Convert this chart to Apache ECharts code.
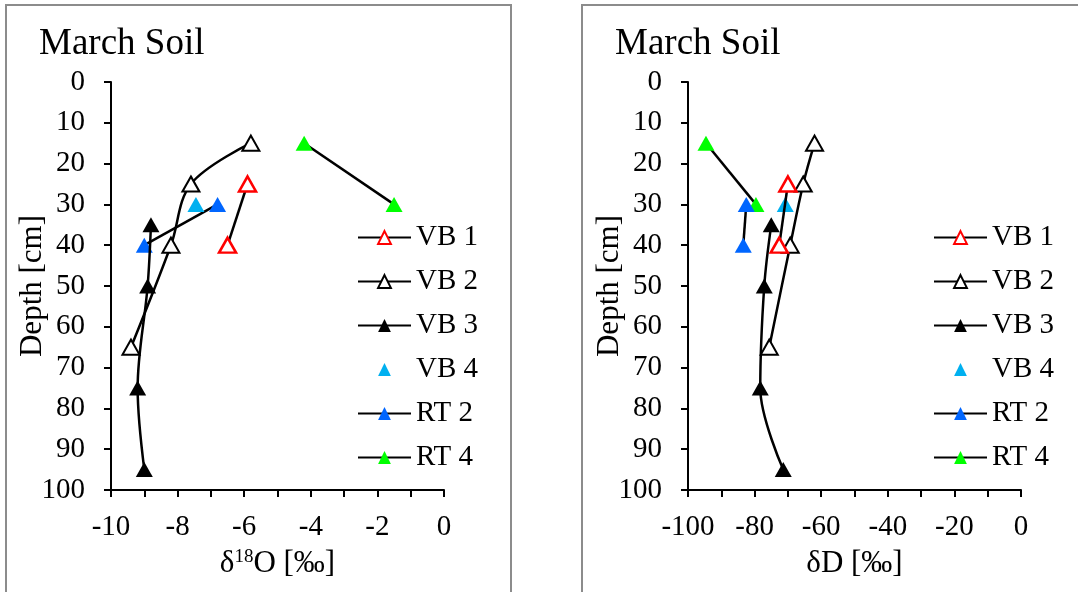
<!DOCTYPE html>
<html>
<head>
<meta charset="utf-8">
<script src="https://cdn.jsdelivr.net/npm/echarts@6/dist/echarts.min.js"></script>
<style>
  html, body { margin: 0; padding: 0; background: #fff; }
  #chart { width: 1078px; height: 592px; }
</style>
</head>
<body>
<div id="chart"></div>
<script>
// depths [cm]
const vb1Depth = [25, 40]
const vb2Depth = [15, 25, 40, 65]
const vb3Depth = [35, 50, 75, 95]
const vb4Depth = [30]
const rt2Depth = [30, 40]
const rt4Depth = [15, 30]

// d18O [permil]
const vb1O = [-5.9, -6.5]
const vb2O = [-5.8, -7.6, -8.2, -9.4]
const vb3O = [-8.8, -8.9, -9.2, -9.0]
const vb4O = [-7.45]
const rt2O = [-6.8, -9.0]
const rt4O = [-4.2, -1.5]

// dD [permil]
const vb1D = [-70, -72.6]
const vb2D = [-62, -65.4, -69.3, -75.6]
const vb3D = [-75, -77.1, -78.3, -71.4]
const vb4D = [-70.8]
const rt2D = [-82.5, -83.4]
const rt4D = [-94.6, -79.6]

const seriesNames = ['VB 1', 'VB 2', 'VB 3', 'VB 4', 'RT 2', 'RT 4']
const depthTicks = [0, 100, 10]
const oTicks = [-10, 0, 2]
const dTicks = [-100, 0, 20]

const FONT = 'Liberation Serif'

const pairs = (xs, ys) => xs.map((x, i) => [x, ys[i]])

// one set of six series for a grid
const makeSeries = (idx, vals) => {
  const depths = [vb1Depth, vb2Depth, vb3Depth, vb4Depth, rt2Depth, rt4Depth]
  const styles = [
    { fill: '#fff', border: '#ff0000', bw: 2.5, line: true, smooth: false },
    { fill: '#fff', border: '#000', bw: 2, line: true, smooth: true },
    { fill: '#000', border: '#000', bw: 0, line: true, smooth: true },
    { fill: '#00b0f0', border: '#00b0f0', bw: 0, line: false, smooth: false },
    { fill: '#0066ff', border: '#0066ff', bw: 0, line: true, smooth: false },
    { fill: '#00ff00', border: '#00ff00', bw: 0, line: true, smooth: false }
  ]
  return seriesNames.map((name, i) => ({
    name: name,
    type: 'line',
    xAxisIndex: idx,
    yAxisIndex: idx,
    data: pairs(vals[i], depths[i]),
    smooth: styles[i].smooth ? 0.35 : false,
    symbol: 'triangle',
    symbolSize: [17, 15],
    lineStyle: { color: '#000', width: styles[i].line ? 2.5 : 0 },
    itemStyle: { color: styles[i].fill, borderColor: styles[i].border, borderWidth: styles[i].bw },
    emphasis: { disabled: true },
    z: 10 - i
  }))
}

const yAxisCfg = (idx) => ({
  type: 'value',
  gridIndex: idx,
  inverse: true,
  min: depthTicks[0],
  max: depthTicks[1],
  interval: depthTicks[2],
  name: 'Depth [cm]',
  nameLocation: 'middle',
  nameGap: 63,
  nameMoveOverlap: false,
  nameTextStyle: { fontFamily: FONT, fontSize: 31, color: '#000' },
  axisLine: { show: true, onZero: false, lineStyle: { color: '#000', width: 2 } },
  axisTick: { show: true, length: 7, lineStyle: { color: '#000', width: 2 } },
  axisLabel: { fontFamily: FONT, fontSize: 29, color: '#000', margin: 26 },
  splitLine: { show: false }
})

const xAxisCfg = (idx, ticks, name) => ({
  type: 'value',
  gridIndex: idx,
  position: 'bottom',
  min: ticks[0],
  max: ticks[1],
  interval: ticks[2],
  name: name,
  nameLocation: 'middle',
  nameGap: 58,
  nameMoveOverlap: false,
  nameTextStyle: {
    fontFamily: FONT, fontSize: 31, color: '#000',
    rich: { sup: { fontFamily: FONT, fontSize: 19, color: '#000', verticalAlign: 'top' } }
  },
  axisLine: { show: true, onZero: false, lineStyle: { color: '#000', width: 2 } },
  axisTick: { show: true, length: 7, lineStyle: { color: '#000', width: 2 } },
  minorTick: { show: true, splitNumber: 2, length: 7, lineStyle: { color: '#000', width: 2 } },
  axisLabel: { fontFamily: FONT, fontSize: 29, color: '#000', margin: 23 },
  splitLine: { show: false }
})

const legendCfg = (idx, left) => ({
  orient: 'vertical',
  left: left,
  top: 218,
  itemWidth: 53,
  itemHeight: 16,
  itemGap: 15,
  data: seriesNames,
  selectedMode: false,
  textStyle: { fontFamily: FONT, fontSize: 29, color: '#000' }
})

const chart = echarts.init(document.getElementById('chart'))
const option = {
  animation: false,
  backgroundColor: '#fff',
  title: [
    { text: 'March Soil', left: 34, top: 21, textStyle: { fontFamily: FONT, fontSize: 37, fontWeight: 'normal', color: '#000' } },
    { text: 'March Soil', left: 610, top: 21, textStyle: { fontFamily: FONT, fontSize: 37, fontWeight: 'normal', color: '#000' } }
  ],
  grid: [
    { left: 111, top: 82, width: 333, height: 408 },
    { left: 688, top: 82, width: 333, height: 408 }
  ],
  xAxis: [xAxisCfg(0, oTicks, 'δ{sup|18}O [‰]'), xAxisCfg(1, dTicks, 'δD [‰]')],
  yAxis: [yAxisCfg(0), yAxisCfg(1)],
  legend: [legendCfg(0, 352), legendCfg(1, 928)],
  graphic: [
    { type: 'rect', shape: { x: 6, y: 5, width: 505, height: 620 }, style: { fill: 'none', stroke: '#8c8c8c', lineWidth: 2 }, silent: true },
    { type: 'rect', shape: { x: 582, y: 5, width: 520, height: 620 }, style: { fill: 'none', stroke: '#8c8c8c', lineWidth: 2 }, silent: true }
  ],
  series: makeSeries(0, [vb1O, vb2O, vb3O, vb4O, rt2O, rt4O]).concat(
    makeSeries(1, [vb1D, vb2D, vb3D, vb4D, rt2D, rt4D]))
}
chart.setOption(option)
</script>
</body>
</html>
